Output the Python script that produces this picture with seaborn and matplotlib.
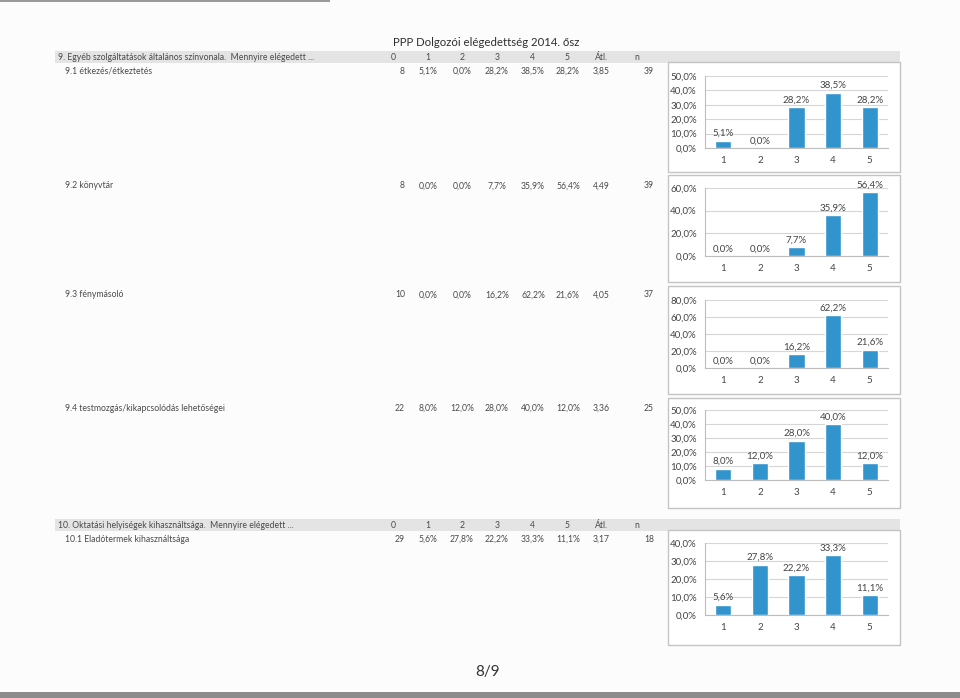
import matplotlib
matplotlib.use("Agg")
import matplotlib.pyplot as plt
import seaborn as sns
import pandas as pd
from matplotlib.patches import Rectangle
from matplotlib.ticker import MultipleLocator, FixedLocator

# ---------------- data ----------------
title = "PPP Dolgozói elégedettség 2014. ősz"
header_cols = ["0", "1", "2", "3", "4", "5", "Átl.", "n"]
section_labels = ["9. Egyéb szolgáltatások általános színvonala.  Mennyire elégedett ...",
                  "10. Oktatási helyiségek kihasználtsága.  Mennyire elégedett ..."]
categories = ["1", "2", "3", "4", "5"]
row_labels = ["9.1 étkezés/étkeztetés", "9.2 könyvtár", "9.3 fénymásoló",
              "9.4 testmozgás/kikapcsolódás lehetőségei", "10.1 Eladótermek kihasználtsága"]
zero_counts = [8, 8, 10, 22, 29]
etkezes = [5.1, 0.0, 28.2, 38.5, 28.2]
konyvtar = [0.0, 0.0, 7.7, 35.9, 56.4]
fenymasolo = [0.0, 0.0, 16.2, 62.2, 21.6]
testmozgas = [8.0, 12.0, 28.0, 40.0, 12.0]
eladotermek = [5.6, 27.8, 22.2, 33.3, 11.1]
averages = [3.85, 4.49, 4.05, 3.36, 3.17]
n_values = [39, 39, 37, 25, 18]
y_max = [50, 60, 80, 50, 40]
y_step = [10, 20, 20, 10, 10]
page_label = "8/9"

series = [etkezes, konyvtar, fenymasolo, testmozgas, eladotermek]

# ---------------- layout ----------------
sns.set_theme(style="white")
plt.rcParams['font.family'] = ['Lato', 'DejaVu Sans']

W, H = 960, 698
fig = plt.figure(figsize=(9.6, 6.98), dpi=100, facecolor="#fcfcfc")

def fx(x):
    return x / W

def fy(y):
    return 1 - y / H

def fmt(v, d=1, pct=True):
    s = f"{v:.{d}f}".replace(".", ",")
    return s + ("%" if pct else "")

txt_col = "#4a4a4a"
bar_col = "#3194cc"
tfs = 6.2

# thin line at top and dark band at bottom (scan edges)
fig.patches.append(Rectangle((0, fy(2)), fx(330), 2 / H, transform=fig.transFigure,
                             facecolor="#9a9a9a", edgecolor="none"))
fig.patches.append(Rectangle((0, 0), 1, 6 / H, transform=fig.transFigure,
                             facecolor="#8c8c8c", edgecolor="none"))

# title
fig.text(fx(393), fy(42), title, fontsize=8.2, color="#2e2e2e", ha="left", va="center")

# section header bands
header_y = [57, 525]
for hy, lab in zip(header_y, section_labels):
    fig.patches.append(Rectangle((fx(55), fy(hy + 6)), fx(900 - 55), 12 / H,
                                 transform=fig.transFigure, facecolor="#e4e4e4",
                                 edgecolor="none", zorder=0))
    fig.text(fx(58), fy(hy), lab, fontsize=tfs, color=txt_col, ha="left", va="center")
    hx = [393, 428, 462, 497, 532, 567, 601, 637]
    for x, c in zip(hx, header_cols):
        fig.text(fx(x), fy(hy), c, fontsize=tfs, color=txt_col, ha="center", va="center")

# data rows
row_y = [71, 186, 295, 408, 539]
pct_x = [428, 462, 497, 533, 568]
for ry, lab, z, vals, avg, n in zip(row_y, row_labels, zero_counts, series, averages, n_values):
    fig.text(fx(65), fy(ry), lab, fontsize=tfs, color=txt_col, ha="left", va="center")
    fig.text(fx(405), fy(ry), str(z), fontsize=tfs, color=txt_col, ha="right", va="center")
    for x, v in zip(pct_x, vals):
        fig.text(fx(x), fy(ry), fmt(v), fontsize=tfs, color=txt_col, ha="center", va="center")
    fig.text(fx(601), fy(ry), fmt(avg, 2, False), fontsize=tfs, color=txt_col,
             ha="center", va="center")
    fig.text(fx(654), fy(ry), str(n), fontsize=tfs, color=txt_col, ha="right", va="center")

# charts: (top of scale px, zero px, box top, box bottom)
chart_geo = [(76, 148, 62, 172), (188, 256, 175, 282), (300, 368, 286, 394),
             (410, 480, 398, 508), (543, 615, 530, 645)]
ax_left, ax_right = 705, 888
box_left, box_right = 668, 900

for vals, ym, st, (ytop, yzero, btop, bbot) in zip(series, y_max, y_step, chart_geo):
    fig.patches.append(Rectangle((fx(box_left), fy(bbot)), fx(box_right - box_left),
                                 (bbot - btop) / H, transform=fig.transFigure,
                                 facecolor="white", edgecolor="#c4c4c4", lw=1.0, zorder=1))
    ax = fig.add_axes([fx(ax_left), fy(yzero), fx(ax_right - ax_left), (yzero - ytop) / H])
    ax.set_zorder(2)
    ax.set_facecolor("none")
    df = pd.DataFrame({"kat": categories, "ertek": vals})
    sns.barplot(data=df, x="kat", y="ertek", color=bar_col, width=0.44, ax=ax,
                saturation=1, zorder=3)
    ax.set_ylim(0, ym)
    ax.set_xlim(-0.5, 4.5)
    ax.yaxis.set_major_locator(MultipleLocator(st))
    ax.set_yticklabels([fmt(t) for t in ax.get_yticks()])
    ax.grid(axis="y", color="#d6d6d6", lw=0.8, zorder=0)
    ax.set_axisbelow(True)
    ax.set_xlabel("")
    ax.set_ylabel("")
    for s in ["top", "right"]:
        ax.spines[s].set_visible(False)
    for s in ["left", "bottom"]:
        ax.spines[s].set_color("#bdbdbd")
        ax.spines[s].set_linewidth(0.8)
    ax.tick_params(axis="y", length=0, labelsize=7, labelcolor="#444444", pad=6)
    ax.tick_params(axis="x", which="major", length=0, labelsize=7, labelcolor="#444444", pad=6)
    ax.xaxis.set_minor_locator(FixedLocator([-0.5, 0.5, 1.5, 2.5, 3.5, 4.5]))
    ax.tick_params(axis="x", which="minor", length=3, color="#bdbdbd", width=0.8)
    ax.bar_label(ax.containers[0], labels=[fmt(v) for v in vals], padding=2,
                 fontsize=7, color="#444444")

# page number
fig.text(fx(488), fy(672), page_label, fontsize=11, color="#333333", ha="center", va="center")

fig.savefig("out.png", dpi=100, facecolor=fig.get_facecolor())
